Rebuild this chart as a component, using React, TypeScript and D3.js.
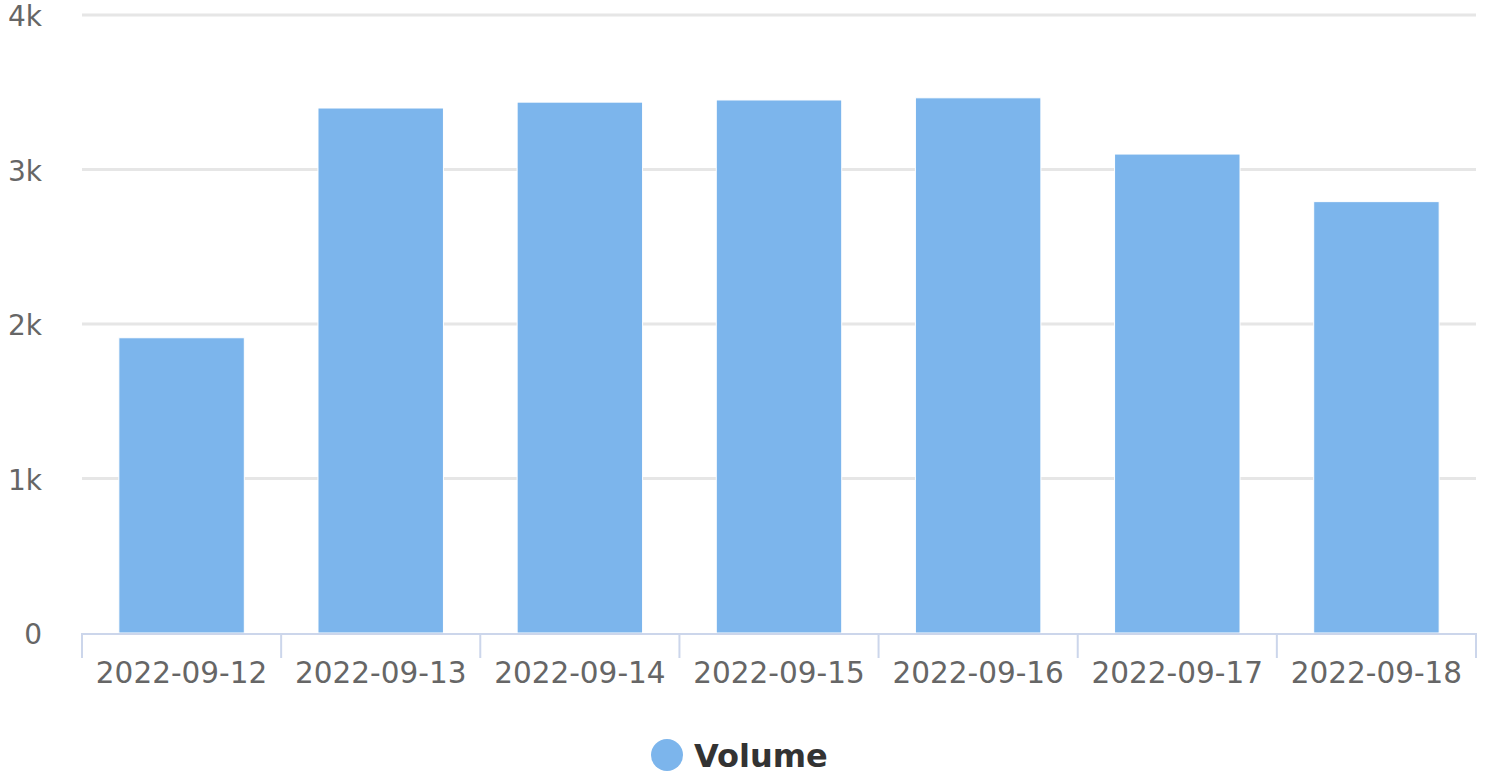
import React, { useEffect } from 'react';
import * as d3 from 'd3';

const categories = ['2022-09-12', '2022-09-13', '2022-09-14', '2022-09-15', '2022-09-16', '2022-09-17', '2022-09-18'];
const volume = [1911, 3398, 3436, 3450, 3464, 3100, 2792];
const yTicks = [0, 1000, 2000, 3000, 4000];
const yTickLabels = ['0', '1k', '2k', '3k', '4k'];
const seriesName = 'Volume';

const W = 1488;
const H = 775;
const font = '"DejaVu Sans", Verdana, sans-serif';

const App = () => {
  useEffect(() => {
    document.body.style.margin = '0';
  }, []);

  const left = 82;
  const right = 1476;
  const top = 15;
  const bottom = 633;

  const x = d3.scaleBand().domain(categories).range([left, right]).padding(0);
  const y = d3.scaleLinear().domain([0, 4000]).range([bottom, top]);
  const barW = x.bandwidth() * 0.63;

  return (
    <svg width={W} height={H} style={{ display: 'block', fontFamily: font }}>
      <rect width={W} height={H} fill="#fff" />
      {/* grid */}
      {yTicks.map((t, i) => (
        <g key={t}>
          {t !== 0 && (
            <line x1={left} x2={right} y1={y(t)} y2={y(t)} stroke="#e6e6e6" strokeWidth={3} />
          )}
          <text x={42} y={y(t) + 11} textAnchor="end" fontSize={28} fill="#666666">
            {yTickLabels[i]}
          </text>
        </g>
      ))}
      {/* bars */}
      {categories.map((c, i) => {
        const bx = (x(c) as number) + (x.bandwidth() - barW) / 2;
        return (
          <rect
            key={c}
            x={bx}
            y={y(volume[i])}
            width={barW}
            height={bottom - y(volume[i])}
            fill="#7cb5ec"
            stroke="#ffffff"
            strokeWidth={1}
          />
        );
      })}
      {/* x axis */}
      <line x1={left} x2={right} y1={bottom + 1} y2={bottom + 1} stroke="#ccd6eb" strokeWidth={2} />
      {[...categories.map((c) => x(c) as number), right].map((tx, i) => (
        <line key={i} x1={tx} x2={tx} y1={bottom} y2={bottom + 25} stroke="#ccd6eb" strokeWidth={2} />
      ))}
      {categories.map((c) => (
        <text
          key={c}
          x={(x(c) as number) + x.bandwidth() / 2}
          y={683}
          textAnchor="middle"
          fontSize={29.5}
          fill="#666666"
        >
          {c}
        </text>
      ))}
      {/* legend */}
      <circle cx={667} cy={755} r={16} fill="#7cb5ec" />
      <text x={694} y={767} fontSize={32} fontWeight="bold" fill="#333333">
        {seriesName}
      </text>
    </svg>
  );
};

export default App;
